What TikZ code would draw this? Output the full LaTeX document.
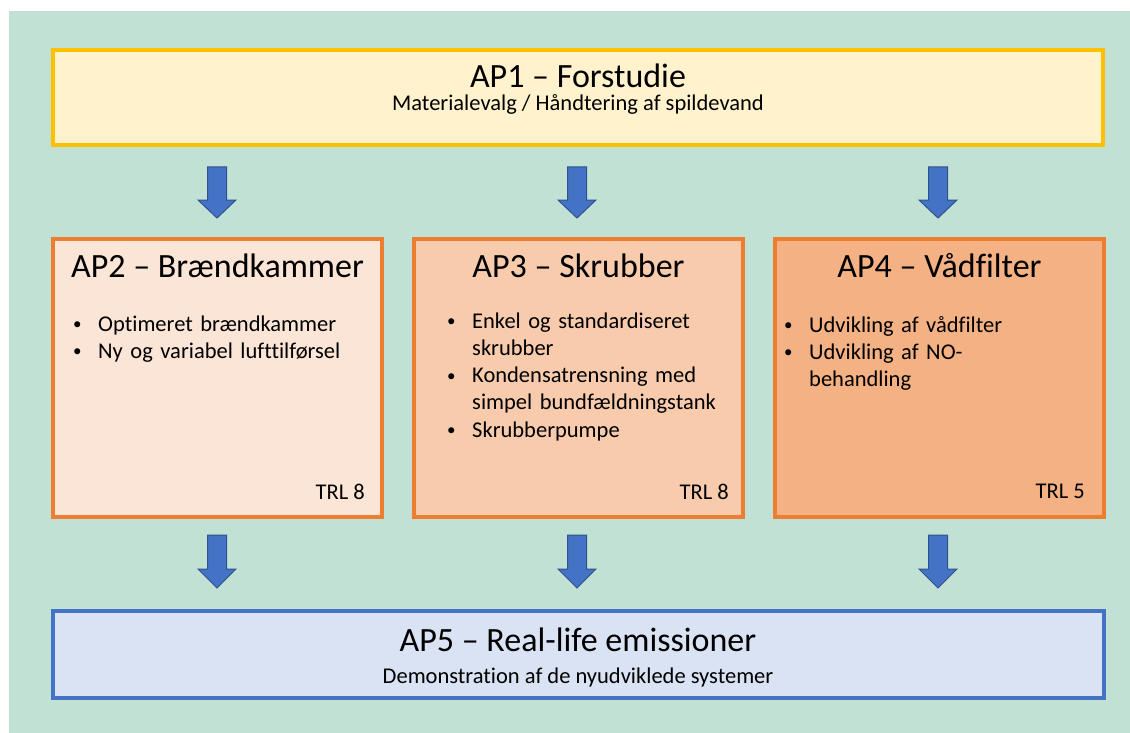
\documentclass[tikz,border=0pt]{standalone}
\usepackage{fontspec}
\setmainfont{Carlito}[Ligatures=NoCommon]
\definecolor{bggreen}{HTML}{C0E1D3}
\definecolor{ap1fill}{HTML}{FFF2CC}
\definecolor{ap1line}{HTML}{FFC000}
\definecolor{ap2fill}{HTML}{FBE5D6}
\definecolor{ap3fill}{HTML}{F8CBAD}
\definecolor{ap4fill}{HTML}{F4B183}
\definecolor{orline}{HTML}{ED7D31}
\definecolor{ap5fill}{HTML}{DAE3F3}
\definecolor{blueline}{HTML}{4472C4}
\definecolor{arrowedge}{HTML}{2F528F}
\newcommand\blockarrowdown[4]{% x, top, head base, tip
  \fill[blueline,draw=arrowedge,line width=1pt,line join=miter]
    (#1-9.5,#2) -- (#1+9.5,#2) -- (#1+9.5,#3) -- (#1+19,#3) -- (#1,#4)
    -- (#1-19,#3) -- (#1-9.5,#3) -- cycle;}
\newcommand\bul{\makebox[23pt][l]{\hspace*{-2pt}\raisebox{1.5pt}{\fontsize{17}{17}\selectfont •}}}
\newcommand\ind{\hspace*{23pt}}
\begin{document}
\begin{tikzpicture}[x=1pt,y=-1pt,
  box/.style={line width=4pt,inner sep=0pt,outer sep=0pt},
  titletext/.style={inner sep=0pt,font=\fontsize{34}{40}\selectfont},
  bodytext/.style={inner sep=0pt,font=\fontsize{22.5}{27.3}\selectfont},
  bullets/.style={inner sep=0pt,font=\fontsize{22.5}{27.3}\selectfont,text width=300pt,align=left}]
\useasboundingbox (0,0) rectangle (1130,733);
\fill[white] (0,0) rectangle (1130,733);
\fill[bggreen] (9,11) rectangle (1130,733);

% boxes
\node[box,draw=ap1line,fill=ap1fill,minimum width=1050pt,minimum height=94.7pt] (ap1) at (578,97.3) {};
\node[box,draw=orline,fill=ap2fill,minimum width=329pt,minimum height=278pt] (ap2) at (217.5,378) {};
\node[box,draw=orline,fill=ap3fill,minimum width=329pt,minimum height=278pt] (ap3) at (578.5,378) {};
\node[box,draw=orline,fill=ap4fill,minimum width=329pt,minimum height=278pt] (ap4) at (939.5,378) {};
\node[box,draw=blueline,fill=ap5fill,minimum width=1051pt,minimum height=87pt] (ap5) at (578.5,654.5) {};

% arrows
\blockarrowdown{217}{167}{200}{218}
\blockarrowdown{577}{167}{200}{218}
\blockarrowdown{938}{167}{200}{218}
\blockarrowdown{217}{535}{569}{588}
\blockarrowdown{577}{535}{569}{588}
\blockarrowdown{938}{535}{569}{588}

% AP1
\node[titletext,anchor=base] (t1) at (578,88) {AP1 – Forstudie};
\node[bodytext,anchor=base] (s1) at (578,111) {Materialevalg / Håndtering af spildevand};

% AP2
\node[titletext,anchor=base] (t2) at (217.5,277) {AP2 – Brændkammer};
\node[bullets,anchor=base west] (b2) at (75,331) {\bul Optimeret brændkammer\\\bul Ny og variabel lufttilførsel};
\node[bodytext,anchor=base east] (r2) at (365,499) {TRL 8};

% AP3
\node[titletext,anchor=base] (t3) at (578.5,277) {AP3 – Skrubber};
\node[bullets,anchor=base west] (b3) at (449,328) {\bul Enkel og standardiseret\\\ind skrubber\\\bul Kondensatrensning med\\\ind simpel bundfældningstank\\\bul Skrubberpumpe};
\node[bodytext,anchor=base east] (r3) at (729,499) {TRL 8};

% AP4
\node[titletext,anchor=base] (t4) at (939.5,277) {AP4 – Vådfilter};
\node[bullets,anchor=base west] (b4) at (786,332) {\bul Udvikling af vådfilter\\\bul Udvikling af NO-\\\ind behandling};
\node[bodytext,anchor=base east] (r4) at (1085,498) {TRL 5};

% AP5
\node[titletext,anchor=base] (t5) at (578,651) {AP5 – Real-life emissioner};
\node[bodytext,anchor=base] (s5) at (578,683) {Demonstration af de nyudviklede systemer};
\end{tikzpicture}
\end{document}
